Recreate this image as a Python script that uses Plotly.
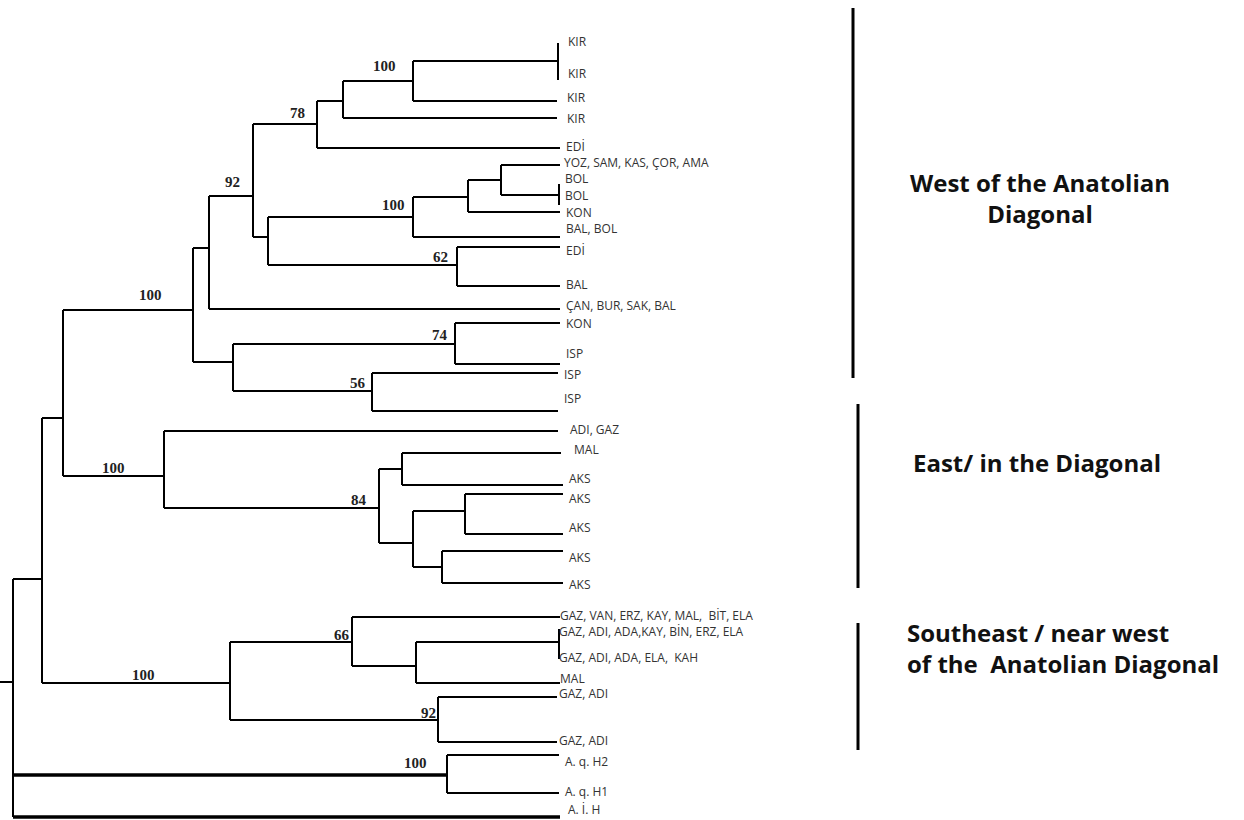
import plotly.graph_objects as go

# ---------------- data: tree topology, branch depths and tip order ----------------
node_id = ["R", "N42", "OUT", "T_AIH", "N63", "SE", "W", "E", "N209", "N233",
           "N253", "T_CAN", "N317", "N268", "N343", "T_EDI1", "N413a", "T_KIR4",
           "N558", "T_KIR3", "T_KIR1", "T_KIR2", "N413b", "N457", "N468", "T_BALBOL",
           "N501", "T_KON1", "T_YOZ", "N559", "T_BOL1", "T_BOL2", "T_EDI2", "T_BAL",
           "N455", "N372", "T_KON2", "T_ISP1", "T_ISP2", "T_ISP3", "T_ADIGAZ", "N379",
           "N402", "N413c", "T_MAL1", "T_AKS1", "N465", "N442", "T_AKS2", "T_AKS3",
           "T_AKS4", "T_AKS5", "N352", "N438", "T_GAZVAN", "N416", "N559b", "T_MAL2",
           "T_GAZ1", "T_GAZ2", "T_GA1", "T_GA2", "T_AQH2", "T_AQH1"]
node_parent = [None, "R", "R", "R", "N42", "N42", "N63", "N63", "W", "W",
               "N209", "N209", "N253", "N253", "N317", "N317", "N343", "N343",
               "N413a", "N413a", "N558", "N558", "N268", "N268", "N413b", "N413b",
               "N468", "N468", "N501", "N501", "N559", "N559", "N457", "N457",
               "N233", "N233", "N455", "N455", "N372", "N372", "E", "E",
               "N379", "N379", "N402", "N402", "N413c", "N413c", "N465", "N465",
               "N442", "N442", "SE", "SE", "N352", "N352", "N416", "N416",
               "N559b", "N559b", "N438", "N438", "OUT", "OUT"]
node_depth = [13, 42, 447, 560, 63, 230, 193, 164, 209, 233,
              253, 560, 317, 268, 343, 560, 413, 557,
              558, 557, 558, 558, 413, 457, 468, 560,
              501, 560, 560, 559, 559, 559, 560, 560,
              455, 372, 560, 560, 558, 558, 558, 379,
              402, 413, 561, 563, 465, 442, 563, 563,
              563, 563, 352, 438, 560, 416, 559, 560,
              559, 559, 557, 557, 559, 559]
node_pos = [682, 579, 775, 817, 418, 683, 310, 476, 248, 362,
            196, 309, 124, 237, 101, 148, 81, 118,
            61, 101, 43, 80, 217, 265, 197, 237,
            180, 212, 165, 195, 184, 205, 247, 286,
            344, 391, 323, 364, 373, 411, 431, 508,
            469, 543, 453, 485, 511, 567, 494, 534,
            551, 583, 642, 720, 617, 666, 642, 683,
            629, 659, 697, 742, 755, 793]
tip_label = {
    "T_AIH": "A. İ. H", "T_CAN": "ÇAN, BUR, SAK, BAL", "T_EDI1": "EDİ",
    "T_KIR4": "KIR", "T_KIR3": "KIR", "T_KIR1": "KIR", "T_KIR2": "KIR",
    "T_BALBOL": "BAL, BOL", "T_KON1": "KON", "T_YOZ": "YOZ, SAM, KAS, ÇOR, AMA",
    "T_BOL1": "BOL", "T_BOL2": "BOL", "T_EDI2": "EDİ", "T_BAL": "BAL",
    "T_KON2": "KON", "T_ISP1": "ISP", "T_ISP2": "ISP", "T_ISP3": "ISP",
    "T_ADIGAZ": "ADI, GAZ", "T_MAL1": "MAL", "T_AKS1": "AKS", "T_AKS2": "AKS",
    "T_AKS3": "AKS", "T_AKS4": "AKS", "T_AKS5": "AKS",
    "T_GAZVAN": "GAZ, VAN, ERZ, KAY, MAL,  BİT, ELA", "T_MAL2": "MAL",
    "T_GAZ1": "GAZ, ADI, ADA,KAY, BİN, ERZ, ELA", "T_GAZ2": "GAZ, ADI, ADA, ELA,  KAH",
    "T_GA1": "GAZ, ADI", "T_GA2": "GAZ, ADI", "T_AQH2": "A. q. H2", "T_AQH1": "A. q. H1",
}
root_stem_start = 0

# bootstrap support values
support_node = ["N413a", "N317", "N253", "N413b", "N457", "W", "N455", "N372",
                "E", "N379", "SE", "N352", "N438", "OUT"]
support_value = [100, 78, 92, 100, 62, 100, 74, 56, 100, 84, 100, 66, 92, 100]

group_names = ["West of the Anatolian<br>Diagonal", "East/ in the Diagonal",
               "Southeast / near west<br>of the  Anatolian Diagonal"]

# ---------------- styling / layout helpers ----------------
support_offset = {  # label centre relative to (node depth, node position)
    "N413a": (-29, -15), "N317": (-20, -11), "N253": (-21, -14), "N413b": (-20, -12),
    "N457": (-17, -8), "W": (-43, -15), "N455": (-15, -9), "N372": (-14, -8),
    "E": (-51, -8), "N379": (-20, -8), "SE": (-87, -8), "N352": (-10, -7),
    "N438": (-10, -7), "OUT": (-32, -12),
}
label_nudge = {  # (dx, dy) for tip labels
    "T_KIR1": (4, 0), "T_KIR2": (4, -5), "T_KIR3": (4, -2), "T_KIR4": (4, 2),
    "T_ISP1": (0, -9), "T_ISP2": (0, 3), "T_ISP3": (0, -11), "T_ADIGAZ": (6, 0),
    "T_MAL1": (7, -2), "T_AKS1": (0, -5), "T_AKS2": (0, 6), "T_AKS3": (0, -5),
    "T_AKS4": (0, 8), "T_AKS5": (0, 3), "T_AQH2": (0, 8), "T_GAZ1": (-6, 4),
    "T_GAZVAN": (-6, 0), "T_GAZ2": (-6, 0), "T_MAL2": (-6, -3), "T_GA1": (-4, -2),
    "T_GA2": (-4, 0), "T_BOL2": (0, -8), "T_BALBOL": (0, -7), "T_EDI2": (0, 5),
    "T_AIH": (2, -6), "T_BOL1": (0, -4), "T_YOZ": (-2, -1), "T_EDI1": (0, 0),
    "T_CAN": (0, -2), "T_KON2": (0, 2), "T_KON1": (0, 2),
}
group_bars = [(853, 8, 378), (858, 404, 588), (858, 623, 750)]
group_text_pos = [(1040, 198, "center"), (1037, 462, "center"), (905, 648, "left")]

depth = dict(zip(node_id, node_depth))
pos = dict(zip(node_id, node_pos))
children = {}
for n, p in zip(node_id, node_parent):
    if p is not None:
        children.setdefault(p, []).append(n)

thick_edges = {("R", "OUT"), ("R", "T_AIH")}
xs, ys, txs, tys = [], [], [], []
for n, kids in children.items():
    ky = [pos[k] for k in kids]
    xs += [depth[n], depth[n], None]
    ys += [min(ky), max(ky), None]
    for k in kids:
        if (n, k) in thick_edges:
            txs += [depth[n], depth[k], None]
            tys += [pos[k], pos[k], None]
        else:
            xs += [depth[n], depth[k], None]
            ys += [pos[k], pos[k], None]
# root stem
xs += [root_stem_start, depth["R"], None]
ys += [pos["R"], pos["R"], None]

fig = go.Figure()
fig.add_trace(go.Scatter(x=xs, y=ys, mode="lines", line=dict(color="black", width=2),
                         hoverinfo="skip", showlegend=False, cliponaxis=False))
fig.add_trace(go.Scatter(x=txs, y=tys, mode="lines", line=dict(color="black", width=3.5),
                         hoverinfo="skip", showlegend=False, cliponaxis=False))
for bx, y0, y1 in group_bars:
    fig.add_trace(go.Scatter(x=[bx, bx], y=[y0, y1], mode="lines",
                             line=dict(color="black", width=3), hoverinfo="skip",
                             showlegend=False))

# tip labels
lx, ly, lt = [], [], []
for n, t in tip_label.items():
    dx, dy = label_nudge.get(n, (0, 0))
    lx.append(depth[n] + 6 + dx)
    ly.append(pos[n] + dy)
    lt.append(t)
fig.add_trace(go.Scatter(x=lx, y=ly, mode="text", text=lt, textposition="middle right",
                         textfont=dict(family="Open Sans", size=12, color="#333333"),
                         hoverinfo="skip", showlegend=False, cliponaxis=False))

# support values
for n, v in zip(support_node, support_value):
    dx, dy = support_offset[n]
    fig.add_annotation(x=depth[n] + dx, y=pos[n] + dy, text=f"<b>{v}</b>", showarrow=False,
                       xanchor="center", yanchor="middle",
                       font=dict(family="Liberation Serif", size=15, color="#222222"))

# group names
for name, (gx, gy, al) in zip(group_names, group_text_pos):
    fig.add_annotation(x=gx, y=gy, text=f"<b>{name}</b>", showarrow=False,
                       xanchor="center" if al == "center" else "left", yanchor="middle",
                       align=al,
                       font=dict(family="Open Sans", size=24, color="#111111"))

fig.update_xaxes(range=[0, 1244], visible=False, fixedrange=True)
fig.update_yaxes(range=[820, 0], visible=False, fixedrange=True)
fig.update_layout(width=1244, height=820, margin=dict(l=0, r=0, t=0, b=0),
                  paper_bgcolor="white", plot_bgcolor="white")
fig.write_html("out.html", config={"displayModeBar": False},
               post_script="document.body.style.margin='0px';document.body.style.overflow='hidden';")
